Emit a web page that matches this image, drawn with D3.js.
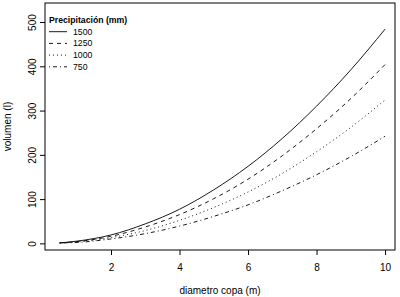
<!DOCTYPE html>
<html lang="es">
<head>
	<meta charset="UTF-8">
	<title>volumen vs diametro copa</title>
	<style>
		body { margin: 0; background: #fff; }
		text { font-family: "Liberation Sans", Arial, sans-serif; fill: #000; }
	</style>
</head>
<body>
	<svg id="chart" width="400" height="297"></svg>
<script src="https://cdn.jsdelivr.net/npm/d3@7"></script>
<script>
	// diametro copa (m)
	let diametro = [0.5, 1, 2, 3, 4, 5, 6, 7, 8, 9, 10];
	// volumen (l), one list per precipitation
	let vol1500 = [1, 5, 19, 44, 77, 121, 174, 237, 310, 392, 484];
	let vol1250 = [1, 4, 16, 37, 65, 101, 145, 198, 259, 327, 404];
	let vol1000 = [1, 3, 13, 29, 52, 81, 116, 158, 207, 262, 324];
	let vol750  = [1, 2, 10, 22, 39, 61, 87, 119, 155, 196, 242];
	let precip = ["1500", "1250", "1000", "750"];
	let xTicks = [2, 4, 6, 8, 10];
	let yTicks = [0, 100, 200, 300, 400, 500];

	let dashes = ["none", "4,4", "1,3", "1,3,4,3"];
	let series = [vol1500, vol1250, vol1000, vol750];

	let mLeft = 45, mRight = 395, mTop = 3, mBottom = 250;
	let svg = d3.select("#chart");

	let x = d3.scaleLinear().domain([0.073, 10.29]).range([mLeft, mRight]);
	let y = d3.scaleLinear().domain([-15, 543]).range([mBottom, mTop]);

	// axes
	let xAxis = svg.append("g")
		.attr("transform", "translate(0," + mBottom + ")")
		.call(d3.axisBottom(x).tickValues(xTicks).tickSize(5).tickPadding(9));
	xAxis.select(".domain").remove();
	xAxis.selectAll("line").attr("stroke", "#000");
	xAxis.selectAll("text").attr("font-size", 10).attr("font-family", null);

	let yAxis = svg.append("g")
		.attr("transform", "translate(" + mLeft + ",0)")
		.call(d3.axisLeft(y).tickValues(yTicks).tickSize(5));
	yAxis.select(".domain").remove();
	yAxis.selectAll("line").attr("stroke", "#000");
	yAxis.selectAll("text")
		.attr("font-size", 10)
		.attr("font-family", null)
		.attr("x", 0)
		.attr("dy", "0.35em")
		.attr("text-anchor", "middle")
		.attr("transform", "translate(-13,0) rotate(-90)");

	// curves
	let line = d3.line()
		.x((d, i) => x(diametro[i]))
		.y(d => y(d))
		.curve(d3.curveMonotoneX);

	svg.append("g")
		.selectAll("path")
		.data(series)
		.enter()
		.append("path")
		.attr("d", d => line(d))
		.attr("fill", "none")
		.attr("stroke", "#000")
		.attr("stroke-width", 0.9)
		.attr("stroke-dasharray", (d, i) => dashes[i]);

	// box
	svg.append("rect")
		.attr("x", mLeft).attr("y", mTop)
		.attr("width", mRight - mLeft).attr("height", mBottom - mTop)
		.attr("fill", "none").attr("stroke", "#000").attr("stroke-width", 1);

	// axis titles
	svg.append("text")
		.attr("x", (mLeft + mRight) / 2).attr("y", 294)
		.attr("text-anchor", "middle").attr("font-size", 10)
		.text("diametro copa (m)");
	svg.append("text")
		.attr("transform", "translate(11," + (mTop + mBottom) / 2 + ") rotate(-90)")
		.attr("text-anchor", "middle").attr("font-size", 10)
		.text("volumen (l)");

	// legend
	let legend = svg.append("g");
	legend.append("text")
		.attr("x", 49).attr("y", 23)
		.attr("font-size", 8.7).attr("font-weight", "bold")
		.text("Precipitación (mm)");
	let rows = legend.selectAll("g.row")
		.data(precip)
		.enter()
		.append("g")
		.attr("class", "row")
		.attr("transform", (d, i) => "translate(0," + (31.7 + i * 11.7) + ")");
	rows.append("line")
		.attr("x1", 49).attr("x2", 67)
		.attr("stroke", "#000").attr("stroke-width", 0.9)
		.attr("stroke-dasharray", (d, i) => dashes[i]);
	rows.append("text")
		.attr("x", 73).attr("dy", "0.35em")
		.attr("font-size", 8.7)
		.text(d => d);
</script>
</body>
</html>
